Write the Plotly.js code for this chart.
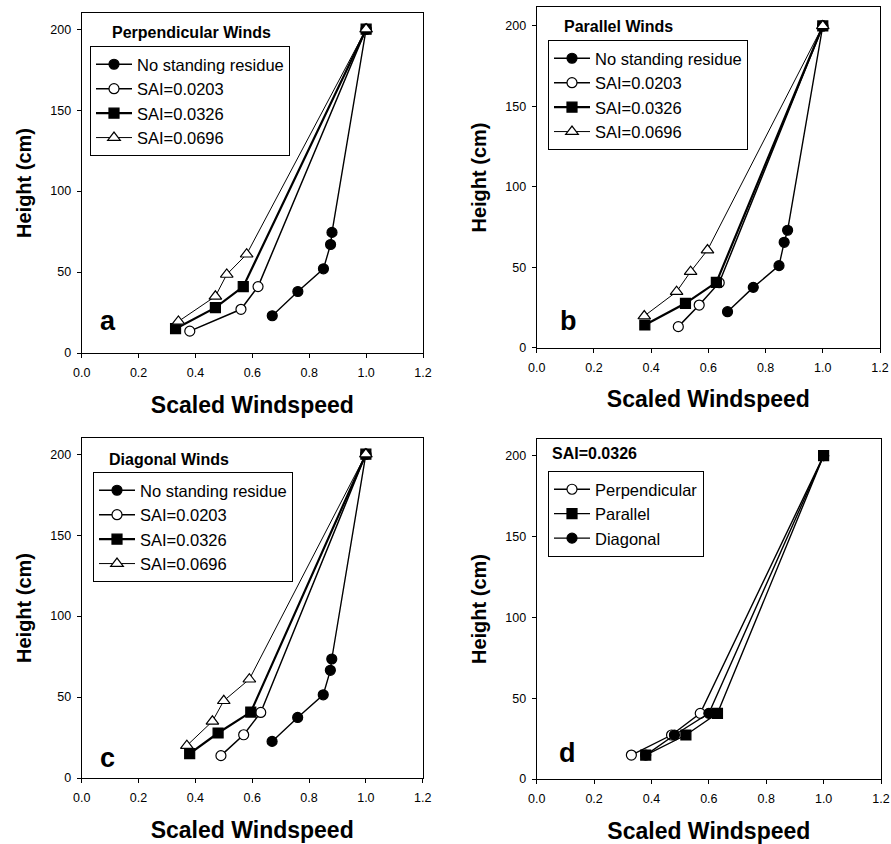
<!DOCTYPE html>
<html>
<head>
<meta charset="utf-8">
<script src="https://cdn.plot.ly/plotly-3.0.1.min.js"></script>
<style>html,body{margin:0;padding:0;background:#fff;}#chart{width:891px;height:844px;}</style>
</head>
<body>
<div id="chart"></div>
<script>
// Panel a: Perpendicular winds
const aNoStandX = [0.67, 0.76, 0.85, 0.875, 0.88, 1.0];
const aNoStandY = [23, 38, 52, 67, 74.5, 200];
const aSai1X = [0.38, 0.56, 0.62, 1.0];
const aSai1Y = [13.5, 27, 41, 200];
const aSai2X = [0.33, 0.47, 0.568, 1.0];
const aSai2Y = [15, 28, 41, 200];
const aSai3X = [0.34, 0.47, 0.51, 0.58, 1.0];
const aSai3Y = [19.5, 35, 48.5, 61, 200];
// Panel b: Parallel winds
const bNoStandX = [0.667, 0.757, 0.847, 0.865, 0.877, 1.0];
const bNoStandY = [22.4, 37.5, 51, 65.5, 73, 200];
const bSai1X = [0.495, 0.568, 0.638, 1.0];
const bSai1Y = [13.1, 26.5, 40.4, 200];
const bSai2X = [0.378, 0.52, 0.628, 1.0];
const bSai2Y = [14.1, 27.6, 40.6, 200];
const bSai3X = [0.376, 0.489, 0.538, 0.597, 1.0];
const bSai3Y = [19.7, 34.8, 47.3, 60.7, 200];
// Panel c: Diagonal winds
const cNoStandX = [0.67, 0.76, 0.85, 0.875, 0.88, 1.0];
const cNoStandY = [22.6, 37.4, 51.4, 66.5, 73.5, 200];
const cSai1X = [0.49, 0.57, 0.63, 1.0];
const cSai1Y = [13.8, 26.7, 40.5, 200];
const cSai2X = [0.38, 0.48, 0.595, 1.0];
const cSai2Y = [15, 27.8, 40.7, 200];
const cSai3X = [0.37, 0.46, 0.50, 0.59, 1.0];
const cSai3Y = [20, 35, 47.7, 61, 200];
// Panel d: SAI=0.0326
const dPerpX = [0.33, 0.47, 0.57, 1.0];
const dPerpY = [14.8, 27.2, 40.6, 200];
const dParX = [0.38, 0.52, 0.63, 1.0];
const dParY = [14.8, 27.2, 40.6, 200];
const dDiagX = [0.38, 0.48, 0.60, 1.0];
const dDiagY = [14.8, 27.2, 40.6, 200];

const seriesNames = ['No standing residue', 'SAI=0.0203', 'SAI=0.0326', 'SAI=0.0696'];
const dNames = ['Perpendicular', 'Parallel', 'Diagonal'];
const panelTitles = ['Perpendicular Winds', 'Parallel Winds', 'Diagonal Winds', 'SAI=0.0326'];
const panelLetters = ['a', 'b', 'c', 'd'];
const xTitle = 'Scaled Windspeed';
const yTitle = 'Height (cm)';

const FONT = 'Arial, "Liberation Sans", sans-serif';
const styles = [
  {symbol: 'circle', color: '#000', lineColor: '#000', width: 1.4},
  {symbol: 'circle', color: '#fff', lineColor: '#000', width: 1.5},
  {symbol: 'square', color: '#000', lineColor: '#000', width: 2.2},
  {symbol: 'triangle-up', color: '#fff', lineColor: '#000', width: 1}
];
function tr(x, y, name, st, xa, ya, leg) {
  return {
    x: x, y: y, name: name, type: 'scatter', mode: 'lines+markers',
    xaxis: xa, yaxis: ya, legend: leg,
    line: {color: '#000', width: st.width},
    marker: {symbol: st.symbol, size: st.symbol === 'triangle-up' ? 11 : 10, color: st.color,
             line: {color: st.lineColor, width: 1.2}}
  };
}
const panels = [
  [[aNoStandX, aNoStandY], [aSai1X, aSai1Y], [aSai2X, aSai2Y], [aSai3X, aSai3Y]],
  [[bNoStandX, bNoStandY], [bSai1X, bSai1Y], [bSai2X, bSai2Y], [bSai3X, bSai3Y]],
  [[cNoStandX, cNoStandY], [cSai1X, cSai1Y], [cSai2X, cSai2Y], [cSai3X, cSai3Y]]
];
const axNames = [['x', 'y'], ['x2', 'y2'], ['x3', 'y3'], ['x4', 'y4']];
const legNames = ['legend', 'legend2', 'legend3', 'legend4'];
const data = [];
panels.forEach((p, i) => {
  p.forEach((s, j) => data.push(tr(s[0], s[1], seriesNames[j], styles[j], axNames[i][0], axNames[i][1], legNames[i])));
});
const dSeries = [[dPerpX, dPerpY], [dParX, dParY], [dDiagX, dDiagY]];
const dStyles = [
  {symbol: 'circle', color: '#fff', lineColor: '#000', width: 1.4},
  {symbol: 'square', color: '#000', lineColor: '#000', width: 1.4},
  {symbol: 'circle', color: '#000', lineColor: '#000', width: 1.4}
];
dSeries.forEach((s, j) => data.push(tr(s[0], s[1], dNames[j], dStyles[j], 'x4', 'y4', 'legend4')));

const W = 891, H = 844;
function xd(l, r) { return [l / W, r / W]; }
function yd(t, b) { return [1 - b / H, 1 - t / H]; }
function xaxis(dom, anchor) {
  return {domain: dom, anchor: anchor, range: [0, 1.2], dtick: 0.2, tick0: 0, tickformat: '.1f',
    showline: true, mirror: true, linecolor: '#000', linewidth: 1, ticks: 'outside', ticklen: 4,
    tickcolor: '#000', showgrid: false, zeroline: false, automargin: false, ticklabelstandoff: 4,
    tickfont: {family: FONT, size: 12.5, color: '#000'},
    title: {text: xTitle, font: {family: FONT, size: 23, color: '#000', weight: 'bold'}, standoff: 17}};
}
function yaxis(dom, anchor, top) {
  return {domain: dom, anchor: anchor, range: [0, top], dtick: 50, tick0: 0,
    showline: true, mirror: true, linecolor: '#000', linewidth: 1, ticks: 'outside', ticklen: 4,
    tickcolor: '#000', showgrid: false, zeroline: false, automargin: false, ticklabelstandoff: 3,
    tickfont: {family: FONT, size: 12.5, color: '#000'},
    title: {text: yTitle, font: {family: FONT, size: 20, color: '#000', weight: 'bold'}, standoff: 13}};
}
function legend(x, y) {
  return {x: x / W, y: 1 - y / H, xanchor: 'left', yanchor: 'top', bgcolor: '#fff',
    bordercolor: '#000', borderwidth: 1, font: {family: FONT, size: 16.5, color: '#000'},
    tracegroupgap: 0, itemwidth: 36};
}
function ann(text, x, y, size) {
  return {text: text, x: x / W, y: 1 - y / H, xref: 'paper', yref: 'paper', xanchor: 'left', yanchor: 'middle',
    showarrow: false, font: {family: FONT, size: size, color: '#000', weight: 'bold'}};
}
const layout = {
  width: W, height: H, margin: {l: 0, r: 0, t: 0, b: 0},
  paper_bgcolor: '#fff', plot_bgcolor: '#fff', showlegend: true,
  xaxis: xaxis(xd(81.7, 423), 'y'), yaxis: yaxis(yd(13, 353), 'x', 210),
  xaxis2: xaxis(xd(536.7, 880), 'y2'), yaxis2: yaxis(yd(7.3, 347.7), 'x2', 211.6),
  xaxis3: xaxis(xd(81.7, 422.7), 'y3'), yaxis3: yaxis(yd(438, 778), 'x3', 210),
  xaxis4: xaxis(xd(536.7, 881), 'y4'), yaxis4: yaxis(yd(439, 779), 'x4', 210.3),
  legend: legend(90, 46), legend2: legend(548, 40), legend3: legend(93, 472), legend4: legend(548, 471),
  annotations: [
    ann(panelTitles[0], 110, 33, 16), ann(panelTitles[1], 562, 27, 16),
    ann(panelTitles[2], 107, 460, 16), ann(panelTitles[3], 550, 454, 16),
    ann(panelLetters[0], 98, 321, 27), ann(panelLetters[1], 558, 321, 27),
    ann(panelLetters[2], 98, 758, 27), ann(panelLetters[3], 557, 753, 27)
  ]
};
Plotly.newPlot('chart', data, layout, {displayModeBar: false, staticPlot: true});
</script>
</body>
</html>
